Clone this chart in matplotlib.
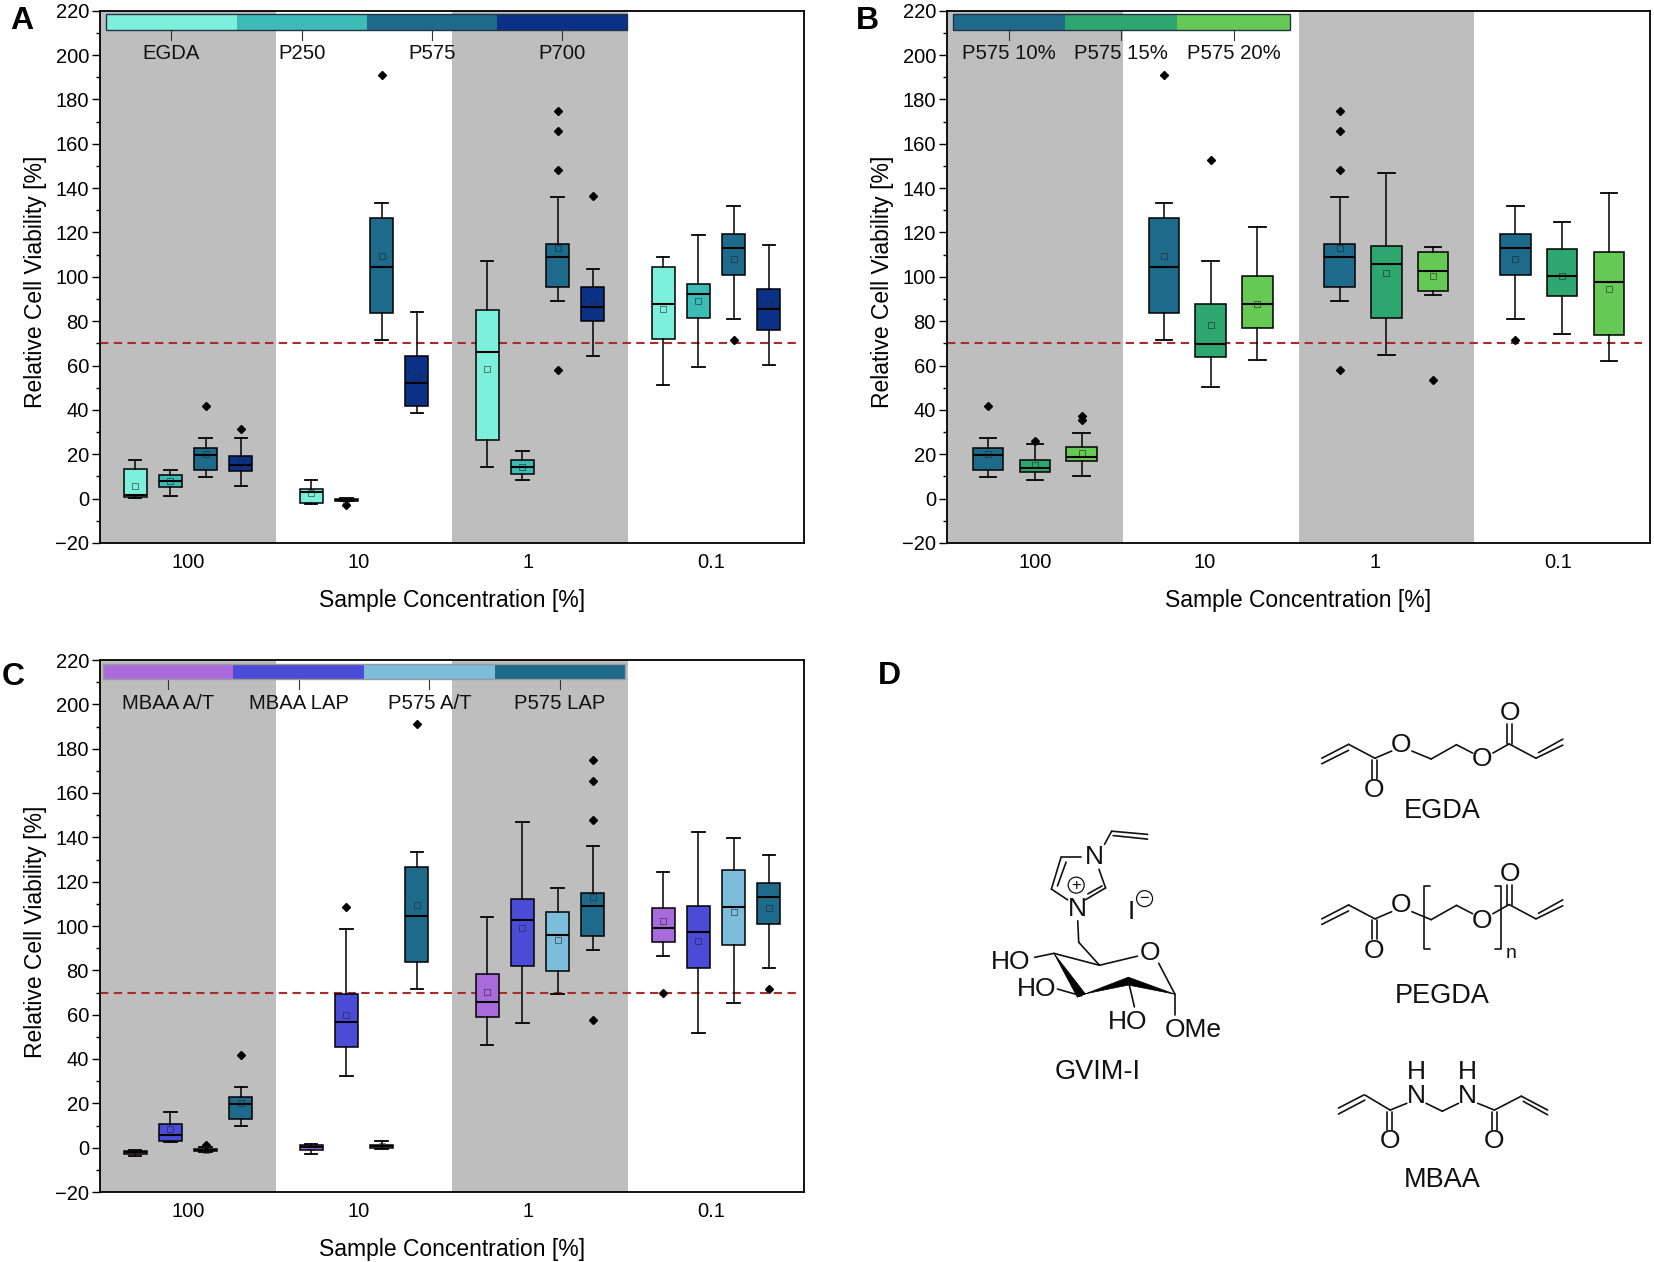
import matplotlib
matplotlib.use('Agg')
import matplotlib.pyplot as plt
from matplotlib.patches import Rectangle, Polygon, Circle

plt.rcParams['font.family'] = ['Liberation Sans', 'DejaVu Sans']

W, H = 1654, 1262

groups = ['100', '10', '1', '0.1']
group_pos = [0.502, 1.468, 2.435, 3.475]

# each row: whisker low, q1, median, q3, whisker high, mean, outliers
egda = [[0.2, 0.7, 1.6, 13.4, 17.6, 5.5, []],
        [-2.3, -2.0, 3.2, 4.5, 8.6, 2.7, []],
        [14.1, 26.6, 66.1, 85.2, 107, 58.6, []],
        [51.2, 71.8, 87.9, 104.3, 109, 85.4, []]]
p250 = [[1.2, 5.2, 8, 10.5, 12.7, 8, []],
        [-1.2, -1, -0.5, 0, 0.4, -0.5, [-2.9]],
        [8.6, 11.2, 14.1, 17.5, 21.7, 14.1, []],
        [59.2, 81.5, 92.3, 96.8, 118.7, 89, []]]
p575 = [[9.8, 13, 19.8, 22.8, 27.5, 20, [41.9]],
        [71.5, 83.8, 104.3, 126.4, 133.3, 109.3, [191]],
        [89.3, 95.4, 109.1, 115, 136.2, 113, [175, 165.6, 148, 57.8]],
        [81, 101, 113, 119.3, 132.1, 108.2, [71.5]]]
p700 = [[5.7, 12.3, 15, 19.3, 27.5, 16, [31.6]],
        [38.5, 41.7, 52.2, 64.3, 84, 54.9, []],
        [64.3, 79.9, 86.3, 95.5, 103.4, 87.5, [136.5]],
        [60.2, 75.9, 85.6, 94.7, 114.4, 87.9, []]]
p575_15 = [[8.4, 11.9, 13.9, 17.5, 24.8, 15.3, [25.8]],
           [50.4, 63.8, 69.9, 87.7, 107, 78.3, [152.9]],
           [64.7, 81.6, 106, 113.9, 147, 101.8, []],
           [74.2, 91.3, 100.5, 112.7, 124.8, 100.5, []]]
p575_20 = [[10.2, 17.1, 18.9, 23.4, 29.4, 20.7, [37.3, 35.5]],
           [62.7, 77, 87.9, 100.2, 122.3, 87.9, []],
           [91.6, 93.4, 102.5, 111.2, 113.4, 100.5, [53.5]],
           [61.9, 73.6, 97.5, 111.2, 137.6, 94.7, []]]
mbaa_at = [[-3.6, -3, -2.1, -1.3, -0.9, -2.1, []],
           [-2.7, -0.9, 0.2, 1, 1.8, 0.2, []],
           [46.5, 59, 65.5, 78.2, 103.9, 70.3, []],
           [86.6, 92.7, 99, 107.9, 124.5, 102.3, [69.9]]]
mbaa_lap = [[2.5, 3.2, 5.9, 10.7, 15.9, 8.6, []],
            [32.2, 45.3, 56.9, 69.2, 98.7, 59.9, [108.6]],
            [56.2, 82.1, 102.7, 112, 146.7, 99.3, []],
            [51.9, 81.2, 97.1, 108.9, 142.6, 93.4, []]]
p575_at = [[-2, -1.6, -1, -0.4, 0.2, -0.9, [1.3]],
           [-0.7, -0.2, 0.7, 1.4, 3, 0.7, []],
           [69.4, 79.8, 96.1, 106.4, 117.2, 93.6, []],
           [65.3, 91.6, 108.4, 125.2, 139.5, 106.4, []]]

names_a = ['EGDA', 'P250', 'P575', 'P700']
names_b = ['P575 10%', 'P575 15%', 'P575 20%']
names_c = ['MBAA A/T', 'MBAA LAP', 'P575 A/T', 'P575 LAP']
colors_a = ['#7df0dc', '#3cbcb6', '#1d6a8b', '#0b3187']
colors_b = ['#1d6a8b', '#2ea66f', '#67c955']
colors_c = ['#a96bdc', '#4a4cd8', '#7dbddb', '#1d6a8b']

viability_limit = 70


def make_panel(rect, series, names, colors, letter_xy, letter, width, bar_x, edge):
    left, right, top, bottom = rect
    ax = fig.add_axes([left / W, 1 - bottom / H, (right - left) / W, (bottom - top) / H])
    ax.set_xlim(0, 4)
    ax.set_ylim(-20, 220)
    ax.axvspan(0, 1, color='#bebebe', lw=0, zorder=0)
    ax.axvspan(2, 3, color='#bebebe', lw=0, zorder=0)
    ax.plot([0, 3.955], [viability_limit, viability_limit], color='#a82c2c', ls=(0, (4, 2.6)), lw=1.5, zorder=1)

    n = len(series)
    step = 0.2 if n == 4 else 0.266
    first = 0.2 if n == 4 else 0.234
    for s, rows in enumerate(series):
        stats = []
        pos = []
        for g, r in enumerate(rows):
            stats.append(dict(whislo=r[0], q1=r[1], med=r[2], q3=r[3], whishi=r[4], mean=r[5], fliers=r[6]))
            pos.append(g + first + s * step)
        ax.bxp(stats, positions=pos, widths=width, capwidths=width * 0.55, patch_artist=True,
               showmeans=True, manage_ticks=False, zorder=3,
               boxprops=dict(lw=1.1, edgecolor='black', facecolor=colors[s]),
               medianprops=dict(color='black', lw=1.5),
               whiskerprops=dict(color='black', lw=1.1),
               capprops=dict(color='black', lw=1.3),
               meanprops=dict(marker='s', mfc='none', mec='#222222', mew=0.4, ms=4),
               flierprops=dict(marker='D', mfc='black', mec='black', ms=4))

    # colour key along the top of the axes
    seg = (bar_x[1] - bar_x[0]) / n
    for i in range(n):
        x0 = bar_x[0] + i * seg
        ax.add_patch(Rectangle((x0, 211.4), seg, 7.0, fc=colors[i], ec='none', zorder=5))
        ax.plot([x0 + seg / 2] * 2, [211.4, 207], color='#333333', lw=0.8, zorder=5)
        ax.text(x0 + seg / 2, 200.6, names[i], ha='center', va='center', fontsize=14.6, color='#111111', zorder=5)
    ax.add_patch(Rectangle((bar_x[0], 211.4), bar_x[1] - bar_x[0], 7.0, fc='none', ec=edge, lw=1.0, zorder=6))

    ax.set_yticks(range(-20, 221, 20))
    ax.set_yticks(range(-10, 220, 20), minor=True)
    ax.set_xticks(group_pos, groups)
    ax.tick_params(axis='y', which='major', length=6, width=1, labelsize=14.5, pad=2)
    ax.tick_params(axis='y', which='minor', length=3, width=1)
    ax.tick_params(axis='x', length=0, labelsize=14.5, pad=7)
    ax.set_xlabel('Sample Concentration [%]', fontsize=16.5)
    ax.set_ylabel('Relative Cell Viability [%]', fontsize=16.5)
    ax.xaxis.set_label_coords(0.5, -0.086)
    ax.yaxis.set_label_coords(-0.075, 0.49)
    for sp in ax.spines.values():
        sp.set_linewidth(1.3)
    fig.text(letter_xy[0] / W, 1 - letter_xy[1] / H, letter, fontsize=23, fontweight='bold', ha='center', va='center')
    return ax


fig = plt.figure(figsize=(W / 100, H / 100), dpi=100, facecolor='white')

make_panel((100, 804, 10.7, 543), [egda, p250, p575, p700], names_a, colors_a, (22, 21), 'A', 0.13, (0.036, 2.997), '#223344')
make_panel((947, 1650, 10.7, 543), [p575, p575_15, p575_20], names_b, colors_b, (867, 21), 'B', 0.173, (0.036, 1.949), '#223344')
make_panel((100, 804, 660, 1192), [mbaa_at, mbaa_lap, p575_at, p575], names_c, colors_c, (13, 677), 'C', 0.13, (0.015, 2.985), '#999999')

# panel D, structures drawn on a full-figure pixel axes
ov = fig.add_axes([0, 0, 1, 1], facecolor='none')
ov.set_xlim(0, W)
ov.set_ylim(H, 0)
ov.axis('off')


def px(p):
    return (860 + p[0] / 1.975, 640 + p[1] / 2.521)


bonds = [
    # EGDA
    [(912, 312), (965, 278)], [(912, 298), (965, 263)], [(965, 263), (1017, 298)],
    [(1012, 302), (1012, 350)], [(1022, 302), (1022, 350)], [(1017, 298), (1050, 280)],
    [(1090, 280), (1128, 300)], [(1128, 300), (1178, 264)], [(1178, 264), (1210, 285)],
    [(1250, 285), (1282, 262)], [(1278, 262), (1278, 212)], [(1288, 262), (1288, 212)],
    [(1282, 262), (1335, 298)], [(1335, 298), (1388, 265)], [(1340, 284), (1388, 250)],
    # PEGDA
    [(912, 717), (965, 683)], [(912, 703), (965, 668)], [(965, 668), (1017, 703)],
    [(1012, 707), (1012, 755)], [(1022, 707), (1022, 755)], [(1017, 703), (1050, 685)],
    [(1090, 685), (1128, 705)], [(1128, 705), (1178, 669)], [(1178, 669), (1210, 690)],
    [(1250, 690), (1282, 667)], [(1278, 667), (1278, 617)], [(1288, 667), (1288, 617)],
    [(1282, 667), (1335, 703)], [(1335, 703), (1388, 670)], [(1340, 689), (1388, 655)],
    [(1125, 620), (1113, 620), (1113, 780), (1125, 780)],
    [(1255, 620), (1265, 620), (1265, 780), (1255, 780)],
    # MBAA
    [(945, 1195), (997, 1160)], [(945, 1180), (995, 1147)], [(997, 1147), (1047, 1185)],
    [(1041, 1190), (1041, 1235)], [(1051, 1190), (1051, 1235)], [(1047, 1185), (1080, 1168)],
    [(1118, 1168), (1150, 1188)], [(1150, 1188), (1182, 1168)], [(1220, 1168), (1253, 1185)],
    [(1248, 1190), (1248, 1235)], [(1258, 1190), (1258, 1235)], [(1253, 1185), (1306, 1150)],
    [(1306, 1150), (1358, 1185)], [(1310, 1163), (1358, 1197)],
    # GVIM-I
    [(483, 515), (497, 482)], [(497, 482), (568, 490)], [(500, 493), (568, 502)],
    [(437, 548), (397, 548)], [(397, 548), (378, 628)], [(407, 560), (390, 620)],
    [(378, 628), (410, 655)], [(445, 655), (485, 625)], [(450, 640), (478, 620)],
    [(485, 625), (472, 578)], [(430, 708), (432, 762)], [(432, 762), (473, 820)],
    [(473, 820), (548, 797)], [(590, 815), (622, 893)], [(473, 820), (383, 790)],
    [(383, 790), (345, 800)], [(437, 897), (390, 880)], [(530, 860), (542, 925)],
    [(622, 893), (622, 945)],
]
for b in bonds:
    pts = [px(p) for p in b]
    ov.plot([p[0] for p in pts], [p[1] for p in pts], color='#111111', lw=1.2, solid_capstyle='round')

wedges = [
    [(383, 790), (429, 900), (445, 892)],
    [(429, 900), (445, 892), (530, 870), (530, 850)],
    [(530, 850), (530, 870), (622, 893)],
]
for w_ in wedges:
    ov.add_patch(Polygon([px(p) for p in w_], closed=True, fc='black', ec='black', lw=0.5))

atoms = [
    ('O', 1016, 378), ('O', 1069, 264), ('O', 1229, 300), ('O', 1283, 185),
    ('O', 1016, 785), ('O', 1069, 669), ('O', 1229, 708), ('O', 1283, 590),
    ('O', 1046, 1262), ('O', 1253, 1262), ('N', 1098, 1150), ('N', 1200, 1150),
    ('H', 1098, 1088), ('H', 1200, 1088),
    ('N', 463, 548), ('N', 430, 678), ('I', 536, 685), ('O', 572, 790),
    ('HO', 298, 812), ('HO', 348, 880), ('HO', 528, 963), ('OMe', 658, 983),
]
for t, zx, zy in atoms:
    x, y = px((zx, zy))
    ov.text(x, y, t, fontsize=19, ha='center', va='center', color='#111111')

x, y = px((1285, 790))
ov.text(x, y, 'n', fontsize=14, ha='center', va='center', color='#111111')

for zx, zy, sign in [(427, 618, '+'), (562, 652, '\u2212')]:
    x, y = px((zx, zy))
    ov.add_patch(Circle((x, y), 8, fc='none', ec='#111111', lw=0.9))
    ov.text(x, y, sign, fontsize=12, ha='center', va='center', color='#111111')

for t, zx, zy in [('EGDA', 1150, 430), ('PEGDA', 1150, 897), ('MBAA', 1150, 1362), ('GVIM-I', 470, 1090)]:
    x, y = px((zx, zy))
    ov.text(x, y, t, fontsize=19.5, ha='center', va='center', color='#111111')

x, y = px((59, 92))
ov.text(x, y, 'D', fontsize=23, fontweight='bold', ha='center', va='center')

fig.savefig('out.png', dpi=100)
